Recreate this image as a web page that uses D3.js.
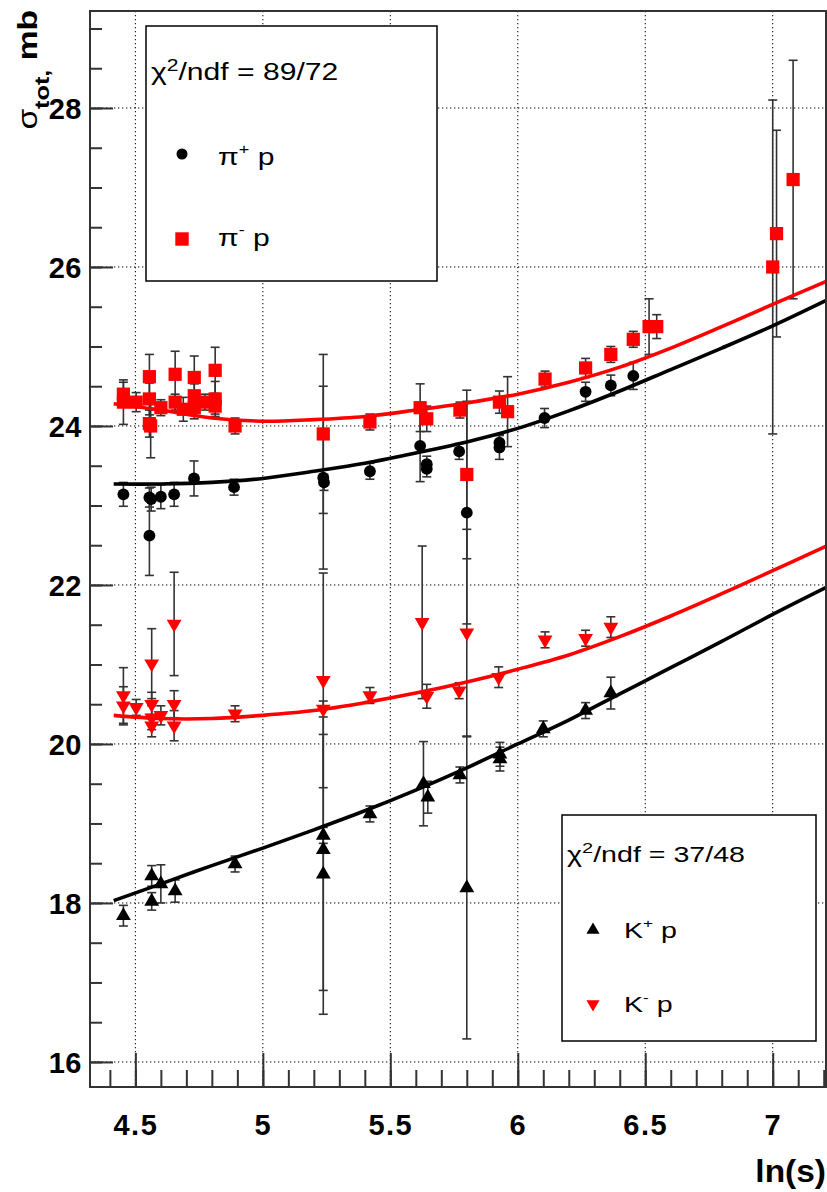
<!DOCTYPE html>
<html><head><meta charset="utf-8">
<script src="https://cdn.jsdelivr.net/npm/d3@7"></script>
<style>body{margin:0;background:#fff} svg{display:block}</style>
</head><body>
<svg id="c" width="827" height="1192"></svg>
<script>
// ---------- data ----------
// pi+ p (black circles)
const piPlusX   = [4.453,4.555,4.562,4.555,4.600,4.652,4.730,4.887,5.237,5.240,5.420,5.617,5.643,5.643,5.770,5.800,5.928,5.928,6.105,6.266,6.365,6.453];
const piPlusY   = [23.14,23.10,23.08,22.62,23.11,23.14,23.34,23.23,23.35,23.29,23.43,23.75,23.52,23.46,23.68,22.91,23.79,23.73,24.10,24.43,24.51,24.63];
const piPlusErr = [0.15,0.12,0.15,0.50,0.15,0.15,0.22,0.10,1.15,0.10,0.10,0.45,0.10,0.10,0.10,1.40,0.10,0.15,0.12,0.12,0.13,0.17];
// pi- p (red squares)
const piMinusX   = [4.453,4.453,4.503,4.555,4.555,4.555,4.560,4.600,4.656,4.656,4.688,4.731,4.731,4.731,4.773,4.813,4.813,4.813,4.891,5.237,5.420,5.617,5.643,5.773,5.800,5.928,5.960,6.107,6.266,6.365,6.453,6.515,6.545,7.000,7.015,7.080];
const piMinusY   = [24.40,24.30,24.30,24.62,24.34,24.03,24.00,24.23,24.65,24.30,24.21,24.61,24.38,24.23,24.30,24.70,24.34,24.25,24.00,23.90,24.05,24.23,24.09,24.20,23.39,24.30,24.18,24.59,24.73,24.90,25.09,25.25,25.25,26.00,26.42,27.10];
const piMinusErr = [0.15,0.28,0.12,0.28,0.20,0.17,0.40,0.10,0.29,0.10,0.15,0.27,0.15,0.14,0.10,0.29,0.22,0.10,0.10,1.00,0.10,0.30,0.16,0.10,1.06,0.14,0.44,0.10,0.12,0.10,0.10,0.35,0.15,2.10,1.30,1.50];
// K- p (red down triangles)
const kMinusX   = [4.453,4.453,4.503,4.564,4.564,4.564,4.564,4.600,4.652,4.652,4.652,4.891,5.237,5.237,5.420,5.625,5.643,5.770,5.800,5.925,6.107,6.266,6.365];
const kMinusY   = [20.61,20.48,20.46,21.01,20.50,20.33,20.23,20.36,21.51,20.50,20.23,20.38,20.80,20.44,20.61,21.53,20.60,20.67,21.40,20.84,21.31,21.33,21.47];
const kMinusErr = [0.35,0.24,0.10,0.44,0.15,0.15,0.14,0.12,0.65,0.17,0.19,0.10,1.35,0.10,0.10,0.96,0.15,0.10,1.30,0.13,0.10,0.10,0.13];
// K+ p (black up triangles)
const kPlusX   = [4.453,4.564,4.564,4.600,4.656,4.891,5.237,5.237,5.237,5.420,5.630,5.647,5.773,5.800,5.930,5.930,6.100,6.266,6.365];
const kPlusY   = [17.84,18.34,18.02,18.24,18.15,18.49,18.85,18.67,18.36,19.12,19.50,19.33,19.61,18.19,19.87,19.81,20.19,20.42,20.64];
const kPlusErr = [0.13,0.13,0.11,0.24,0.14,0.10,0.10,1.77,1.76,0.10,0.53,0.20,0.10,1.90,0.15,0.15,0.10,0.10,0.20];
// fitted curves
const fitX       = [4.415,4.6,4.8,5.0,5.2,5.4,5.6,5.8,6.0,6.2,6.4,6.6,6.8,7.0,7.21];
const fitPiPlus  = [23.27,23.27,23.29,23.34,23.43,23.53,23.66,23.80,23.97,24.19,24.44,24.71,24.98,25.26,25.58];
const fitPiMinus = [24.28,24.20,24.10,24.06,24.08,24.12,24.20,24.29,24.40,24.55,24.74,24.98,25.25,25.53,25.82];
const fitKMinus  = [20.36,20.32,20.32,20.36,20.42,20.52,20.64,20.78,20.94,21.12,21.35,21.61,21.89,22.18,22.49];
const fitKPlus   = [18.03,18.24,18.47,18.69,18.92,19.16,19.42,19.70,20.00,20.30,20.63,20.96,21.29,21.63,21.97];
// ticks
const xMajorTicks = [4.5,5,5.5,6,6.5,7];
const xTickLabels = ["4.5","5","5.5","6","6.5","7"];
const yMajorTicks = [16,18,20,22,24,26,28];
const yTickLabels = ["16","18","20","22","24","26","28"];
const xMinorTicks = [4.4,4.5,4.6,4.7,4.8,4.9,5.0,5.1,5.2,5.3,5.4,5.5,5.6,5.7,5.8,5.9,6.0,6.1,6.2,6.3,6.4,6.5,6.6,6.7,6.8,6.9,7.0,7.1,7.2];
const yMinorTicks = [16,16.5,17,17.5,18,18.5,19,19.5,20,20.5,21,21.5,22,22.5,23,23.5,24,24.5,25,25.5,26,26.5,27,27.5,28,28.5,29];

// ---------- chart ----------
const L=90, R=826, T=11, B=1087;
const RED="#ff0000", AX="#333";
const x = d3.scaleLinear().domain([4.322,7.209]).range([L,R]);
const y = d3.scaleLinear().domain([15.685,29.22]).range([B,T]);
const svg = d3.select("#c");
const FONT = "'Liberation Sans', Arial, Helvetica, sans-serif";

// grid
const grid = svg.append("g").attr("stroke","#000").attr("stroke-width",1).attr("stroke-dasharray","1.3,2.7");
grid.selectAll(".gx").data(xMajorTicks).enter().append("line")
  .attr("x1",d=>x(d)).attr("x2",d=>x(d)).attr("y1",T).attr("y2",B);
grid.selectAll(".gy").data(yMajorTicks).enter().append("line")
  .attr("y1",d=>y(d)).attr("y2",d=>y(d)).attr("x1",L).attr("x2",R);

// helpers
function zip(xs,ys,es){ return xs.map((v,i)=>({x:v,y:ys[i],e:es[i]})); }
function errBars(data){
  const g = svg.append("g").attr("stroke",AX).attr("stroke-width",1.6);
  data.forEach(d=>{
    const y1=y(d.y-d.e), y2=y(d.y+d.e), cx=x(d.x);
    g.append("line").attr("x1",cx).attr("x2",cx).attr("y1",y1).attr("y2",y2);
    g.append("line").attr("x1",cx-4.5).attr("x2",cx+4.5).attr("y1",y1).attr("y2",y1);
    g.append("line").attr("x1",cx-4.5).attr("x2",cx+4.5).attr("y1",y2).attr("y2",y2);
  });
}
function markers(data,type,size,color,rot){
  const sym = d3.symbol().type(type).size(size);
  svg.append("g").selectAll("path").data(data).enter().append("path")
    .attr("d",sym).attr("fill",color)
    .attr("transform",d=>`translate(${x(d.x)},${y(d.y)}) rotate(${rot})`);
}
const line = d3.line().x(d=>x(d[0])).y(d=>y(d[1])).curve(d3.curveCatmullRom);
function fit(ys,color){
  svg.append("path").datum(fitX.map((v,i)=>[v,ys[i]])).attr("d",line)
    .attr("fill","none").attr("stroke",color).attr("stroke-width",3.6).attr("stroke-linejoin","round");
}

const dPiP = zip(piPlusX,piPlusY,piPlusErr);
const dPiM = zip(piMinusX,piMinusY,piMinusErr);
const dKM  = zip(kMinusX,kMinusY,kMinusErr);
const dKP  = zip(kPlusX,kPlusY,kPlusErr);

errBars(dPiM); errBars(dPiP); errBars(dKM); errBars(dKP);
markers(dPiM,d3.symbolSquare,175,RED,0);
markers(dPiP,d3.symbolCircle,110,"#000",0);
markers(dKM,d3.symbolTriangle,95,RED,180);
markers(dKP,d3.symbolTriangle,95,"#000",0);
fit(fitKPlus,"#000"); fit(fitKMinus,RED); fit(fitPiPlus,"#000"); fit(fitPiMinus,RED);

// axes
const yAxis = d3.axisLeft(y).tickValues(yMajorTicks).tickFormat((d,i)=>yTickLabels[i]).tickSize(-23).tickSizeOuter(0).tickPadding(8);
const yMinor = d3.axisLeft(y).tickValues(yMinorTicks).tickFormat("").tickSize(-12).tickSizeOuter(0);
const xAxis = d3.axisBottom(x).tickValues(xMajorTicks).tickFormat((d,i)=>xTickLabels[i]).tickSize(-34).tickSizeOuter(0);
const xMinor = d3.axisBottom(x).tickValues(xMinorTicks).tickFormat("").tickSize(-17).tickSizeOuter(0);

function styleAxis(g){
  g.selectAll("path.domain").remove();
  g.selectAll("line").attr("stroke",AX).attr("stroke-width",2);
}
svg.append("g").attr("transform",`translate(${L},0)`).call(yMinor).call(styleAxis);
const ya = svg.append("g").attr("transform",`translate(${L},0)`).call(yAxis).call(styleAxis);
svg.append("g").attr("transform",`translate(0,${B})`).call(xMinor).call(styleAxis);
const xa = svg.append("g").attr("transform",`translate(0,${B})`).call(xAxis).call(styleAxis);
ya.selectAll("text").attr("font-family",FONT).attr("font-weight","bold").attr("font-size",29).attr("fill","#000")
  .attr("dy","0.36em").attr("letter-spacing",0.5);
xa.selectAll("text").attr("font-family",FONT).attr("font-weight","bold").attr("font-size",29).attr("fill","#000")
  .attr("y",48).attr("dy",0).attr("letter-spacing",1.5);

// frame
svg.append("rect").attr("x",L).attr("y",T).attr("width",R-L).attr("height",B-T)
  .attr("fill","none").attr("stroke",AX).attr("stroke-width",2);

// axis titles
svg.append("text").attr("transform",`translate(826,1182) scale(1.08,1)`).attr("text-anchor","end")
  .attr("font-family",FONT).attr("font-weight","bold").attr("font-size",31).text("ln(s)");
const yt = svg.append("text").attr("transform","translate(37,10) rotate(-90) scale(1.2,1)")
  .attr("text-anchor","end").attr("font-family",FONT).attr("font-size",28).attr("font-weight","bold");
yt.append("tspan").attr("font-weight","normal").text("σ");
yt.append("tspan").attr("font-size",21).attr("dy",12).text("tot,");
yt.append("tspan").attr("dy",-12).text(" mb");

// legends
function legend(bx,by,bw,bh,chiX,chiY,chiTxt,fs,sc,entries){
  svg.append("rect").attr("x",bx).attr("y",by).attr("width",bw).attr("height",bh)
    .attr("fill","#fff").attr("stroke","#000").attr("stroke-width",1.5);
  const t = svg.append("text").attr("transform",`translate(${chiX},${chiY}) scale(${sc},1)`)
    .attr("font-family",FONT).attr("font-size",fs);
  t.append("tspan").text("χ");
  t.append("tspan").attr("font-size",fs*0.7).attr("dy",-fs*0.4).text("2");
  t.append("tspan").attr("dy",fs*0.4).text("/ndf = "+chiTxt);
  entries.forEach(e=>{
    svg.append("path").attr("d",d3.symbol().type(e.type).size(e.size)())
      .attr("fill",e.color).attr("transform",`translate(${e.mx},${e.my}) rotate(${e.rot})`);
    const tt = svg.append("text").attr("transform",`translate(${e.tx},${e.ty}) scale(${sc},1)`)
      .attr("font-family",FONT).attr("font-size",fs);
    tt.append("tspan").text(e.base);
    tt.append("tspan").attr("font-size",fs*0.6).attr("dy",-fs*0.45).text(e.sup);
    tt.append("tspan").attr("dy",fs*0.45).text(" p");
  });
}
legend(146,26,291,255,151,80,"89/72",23.5,1.28,[
  {type:d3.symbolCircle,size:95,color:"#000",rot:0,mx:182,my:154,tx:218,ty:165,base:"π",sup:"+"},
  {type:d3.symbolSquare,size:180,color:RED,rot:0,mx:182,my:239,tx:218,ty:246,base:"π",sup:"-"}
]);
legend(562,815,254,226,567,862,"37/48",22,1.3,[
  {type:d3.symbolTriangle,size:75,color:"#000",rot:0,mx:593,my:930,tx:624,ty:938,base:"K",sup:"+"},
  {type:d3.symbolTriangle,size:75,color:RED,rot:180,mx:593,my:1004,tx:624,ty:1012,base:"K",sup:"-"}
]);
</script>
</body></html>
